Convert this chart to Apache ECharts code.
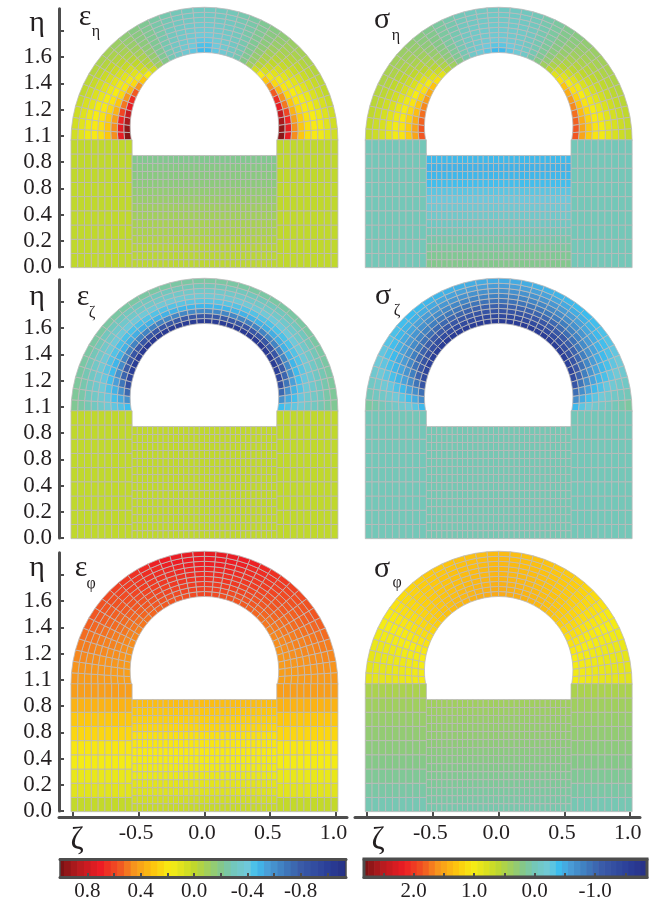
<!DOCTYPE html>
<html><head><meta charset="utf-8">
<style>html,body{margin:0;padding:0;background:#fff}#c{width:655px;height:902px}</style>
<script src="https://cdn.jsdelivr.net/npm/echarts@6/dist/echarts.min.js"></script>
</head><body><div id="c"></div>
<script>
// ---- tick labels (as printed in the figure) ----
const etaTicks=[0,0.2,0.4,0.6,0.8,1.0,1.2,1.4,1.6,1.8];
const etaLabelValues=[0,0.2,0.4,0.6,0.8,1.0,1.2,1.4,1.6];
const etaLabels=['0.0','0.2','0.4','0.8','0.8','1.1','1.2','1.4','1.6'];
const zetaTicks=[-1,-0.5,0,0.5,1];
const zetaLabelValues=[-0.5,0,0.5,1];
const strainBarTicks=[0.8,0.6,0.4,0.2,0,-0.2,-0.4,-0.6,-0.8,-1.0];
const strainBarLabels=[0.8,0.4,0,-0.4,-0.8];
const stressBarTicks=[2.5,2,1.5,1,0.5,0,-0.5,-1,-1.5];
const stressBarLabels=[2,1,0,-1];
const strainBands=[1,.95,.9,.85,.8,.75,.7,.65,.6,.55,.5,.45,.4,.35,.3,.25,.2,.15,.1,.05,0,-.05,-.1,-.15,-.2,-.25,-.3,-.35,-.4,-.45,-.5,-.55,-.6,-.65,-.7,-.75,-.8,-.85,-.9,-.95,-1,-1.05,-1.1,-1.15];
const stressBands=[2.8,2.7,2.6,2.5,2.4,2.3,2.2,2.1,2,1.9,1.8,1.7,1.6,1.5,1.4,1.3,1.2,1.1,1,.9,.8,.7,.6,.5,.4,.3,.2,.1,0,-.1,-.2,-.3,-.4,-.5,-.6,-.7,-.8,-.9,-1,-1.1,-1.2,-1.3,-1.4,-1.5,-1.6,-1.7,-1.8,-1.9];

// ---- field values, arch: one row per ring (inner to outer), 18 sectors from the base up to the crown (symmetric) ----
const epsEtaArch=[
[.97,.95,.9,.82,.72,.66,.55,.45,.3,.18,.05,-.1,-.2,-.28,-.32,-.37,-.42,-.48],
[.72,.72,.68,.6,.5,.45,.34,.24,.15,.07,-.02,-.13,-.22,-.28,-.32,-.36,-.4,-.45],
[.46,.46,.42,.36,.3,.24,.2,.15,.1,.03,-.05,-.14,-.22,-.28,-.32,-.35,-.38,-.42],
[.3,.3,.28,.24,.21,.18,.15,.11,.06,0,-.07,-.15,-.22,-.27,-.31,-.34,-.36,-.39],
[.22,.22,.21,.19,.17,.14,.11,.07,.02,-.03,-.09,-.16,-.22,-.27,-.3,-.33,-.35,-.37],
[.19,.19,.18,.16,.13,.1,.07,.03,-.01,-.06,-.11,-.17,-.22,-.26,-.3,-.32,-.34,-.35],
[.15,.15,.14,.11,.08,.06,.03,0,-.04,-.08,-.13,-.18,-.22,-.26,-.29,-.31,-.32,-.33],
[.1,.1,.09,.07,.04,.02,-.01,-.04,-.07,-.1,-.14,-.18,-.22,-.26,-.28,-.3,-.31,-.32],
[.05,.05,.04,.02,0,-.02,-.04,-.07,-.09,-.12,-.16,-.19,-.22,-.25,-.27,-.29,-.3,-.31]];
const epsEtaLug=[0,0,0,0,0,0,0,0,0];
const epsEtaSlot=[-.01,-.02,-.03,-.05,-.07,-.08,-.1,-.11,-.13,-.15,-.17,-.18,-.19,-.21];

const epsZetaArch=[
[-.47,-.6,-.75,-.88,-.95,-1,-1.02,-1.03,-1.04,-1.04,-1.04,-1.04,-1.04,-1.03,-1.03,-1.03,-1.02,-1.02],
[-.44,-.52,-.6,-.7,-.76,-.8,-.82,-.84,-.84,-.84,-.84,-.84,-.84,-.82,-.82,-.82,-.82,-.82],
[-.42,-.46,-.5,-.55,-.6,-.62,-.64,-.65,-.65,-.65,-.65,-.65,-.65,-.64,-.64,-.64,-.63,-.63],
[-.38,-.41,-.44,-.46,-.48,-.49,-.5,-.5,-.51,-.51,-.51,-.5,-.5,-.5,-.5,-.49,-.49,-.49],
[-.34,-.36,-.39,-.41,-.43,-.44,-.44,-.45,-.45,-.45,-.45,-.44,-.44,-.44,-.44,-.43,-.43,-.43],
[-.31,-.33,-.35,-.37,-.38,-.39,-.39,-.4,-.4,-.4,-.4,-.39,-.39,-.39,-.39,-.38,-.38,-.38],
[-.28,-.3,-.31,-.32,-.33,-.34,-.34,-.34,-.35,-.35,-.34,-.34,-.34,-.34,-.34,-.34,-.34,-.34],
[-.25,-.26,-.27,-.28,-.29,-.29,-.29,-.3,-.3,-.3,-.3,-.3,-.3,-.3,-.3,-.29,-.29,-.29],
[-.22,-.23,-.24,-.25,-.25,-.25,-.25,-.25,-.25,-.25,-.25,-.25,-.25,-.25,-.25,-.25,-.25,-.25]];
const epsZetaLug=[0,0,0,0,0,0,0,0,0];
const epsZetaSlot=[0,0,0,0,0,0,0,0,0,0,0,0,0,0];

const epsPhiArch=[
[.42,.42,.43,.44,.45,.46,.47,.48,.5,.51,.53,.54,.55,.56,.57,.58,.59,.6],
[.42,.43,.44,.45,.46,.47,.48,.5,.51,.53,.54,.56,.57,.58,.59,.6,.61,.61],
[.42,.43,.44,.46,.47,.48,.5,.51,.53,.54,.56,.57,.59,.6,.61,.62,.62,.63],
[.43,.44,.45,.46,.48,.49,.51,.52,.54,.56,.57,.59,.6,.61,.63,.64,.64,.65],
[.43,.44,.45,.47,.48,.5,.52,.53,.55,.57,.59,.6,.62,.63,.64,.65,.66,.66],
[.43,.44,.46,.47,.49,.51,.53,.54,.56,.58,.6,.62,.63,.65,.66,.67,.67,.68],
[.43,.45,.46,.48,.5,.52,.54,.55,.57,.59,.61,.63,.65,.66,.67,.68,.69,.69],
[.43,.45,.47,.49,.51,.53,.55,.56,.58,.6,.62,.64,.66,.67,.69,.7,.7,.71],
[.44,.45,.47,.49,.52,.54,.56,.57,.59,.61,.63,.65,.67,.69,.7,.71,.72,.72]];
const epsPhiLug=[.01,.1,.13,.17,.2,.25,.3,.36,.42];
const epsPhiSlot=[.02,.05,.09,.11,.13,.15,.17,.19,.2,.22,.25,.27,.3,.33];

const sigEtaArch=[
[1.85,1.85,1.8,1.75,1.65,1.55,1.45,1.3,1.1,.85,.6,.4,.2,.05,-.1,-.2,-.3,-.42],
[1.5,1.5,1.45,1.35,1.3,1.2,1.1,1,.85,.7,.5,.3,.15,.02,-.08,-.16,-.24,-.3],
[1.25,1.25,1.2,1.15,1.08,1.02,.95,.85,.72,.58,.43,.27,.13,.02,-.06,-.13,-.18,-.22],
[1.08,1.08,1.05,1,.94,.88,.8,.7,.6,.5,.37,.24,.12,.02,-.05,-.1,-.14,-.17],
[.98,.98,.95,.9,.84,.77,.7,.62,.54,.45,.33,.22,.1,.02,-.05,-.09,-.13,-.15],
[.88,.88,.85,.8,.74,.68,.62,.55,.48,.4,.3,.2,.1,.03,-.04,-.08,-.11,-.12],
[.78,.78,.76,.72,.67,.62,.56,.5,.43,.36,.27,.19,.1,.03,-.03,-.06,-.09,-.1],
[.7,.7,.68,.65,.6,.56,.5,.45,.39,.33,.25,.18,.1,.04,-.01,-.05,-.07,-.08],
[.64,.64,.62,.58,.54,.5,.46,.41,.36,.3,.23,.17,.1,.05,0,-.03,-.05,-.06]];
const sigEtaLug=[0,0,0,0,0,0,0,0,0];
const sigEtaSlot=[.18,.15,.1,.05,0,-.06,-.12,-.18,-.25,-.3,-.38,-.43,-.46,-.42];

const sigZetaArch=[
[-.42,-.7,-.95,-1.2,-1.38,-1.48,-1.52,-1.55,-1.57,-1.58,-1.6,-1.6,-1.6,-1.6,-1.6,-1.6,-1.6,-1.6],
[-.3,-.5,-.7,-.9,-1.05,-1.15,-1.22,-1.27,-1.3,-1.33,-1.35,-1.37,-1.38,-1.38,-1.4,-1.4,-1.4,-1.4],
[-.22,-.38,-.55,-.7,-.82,-.92,-1,-1.05,-1.08,-1.12,-1.14,-1.16,-1.18,-1.2,-1.2,-1.22,-1.22,-1.22],
[-.15,-.3,-.42,-.55,-.65,-.75,-.82,-.87,-.92,-.95,-.98,-1,-1.02,-1.03,-1.05,-1.05,-1.06,-1.06],
[-.1,-.22,-.34,-.45,-.53,-.6,-.67,-.72,-.77,-.8,-.83,-.85,-.87,-.88,-.9,-.9,-.92,-.92],
[-.05,-.16,-.27,-.36,-.44,-.5,-.55,-.6,-.64,-.67,-.7,-.72,-.74,-.76,-.77,-.78,-.79,-.8],
[0,-.1,-.2,-.29,-.36,-.41,-.46,-.5,-.53,-.56,-.59,-.61,-.63,-.65,-.66,-.67,-.68,-.69],
[.05,-.05,-.14,-.22,-.29,-.34,-.38,-.42,-.45,-.47,-.49,-.51,-.53,-.55,-.56,-.57,-.58,-.59],
[.1,0,-.08,-.16,-.22,-.28,-.32,-.35,-.38,-.4,-.41,-.43,-.45,-.46,-.48,-.49,-.5,-.5]];
const sigZetaLug=[0,0,0,0,0,0,0,0,0];
const sigZetaSlot=[.02,.02,.02,.02,.02,.02,.02,.02,.02,.02,.02,.02,.02,.02];

const sigPhiArch=[
[.98,.98,1,1.02,1.05,1.09,1.13,1.18,1.23,1.28,1.32,1.35,1.38,1.4,1.42,1.44,1.45,1.47],
[.96,.97,.98,1,1.04,1.08,1.12,1.17,1.22,1.26,1.3,1.33,1.36,1.38,1.4,1.42,1.43,1.45],
[.94,.95,.97,.99,1.02,1.06,1.11,1.16,1.21,1.25,1.29,1.32,1.34,1.37,1.38,1.4,1.41,1.43],
[.92,.93,.95,.98,1.01,1.05,1.1,1.14,1.19,1.24,1.28,1.31,1.33,1.35,1.37,1.38,1.39,1.41],
[.9,.92,.94,.96,1,1.04,1.08,1.13,1.18,1.23,1.27,1.3,1.32,1.34,1.36,1.37,1.38,1.4],
[.89,.9,.92,.95,.99,1.03,1.07,1.12,1.17,1.22,1.26,1.29,1.31,1.33,1.35,1.36,1.37,1.39],
[.88,.89,.91,.94,.98,1.02,1.06,1.11,1.16,1.21,1.25,1.28,1.3,1.32,1.34,1.35,1.36,1.38],
[.87,.88,.9,.93,.97,1.01,1.05,1.1,1.15,1.2,1.24,1.27,1.29,1.31,1.33,1.34,1.35,1.37],
[.86,.87,.89,.92,.96,1,1.04,1.09,1.14,1.19,1.23,1.26,1.28,1.3,1.32,1.33,1.34,1.36]];
const sigPhiLug=[.02,.08,.14,.2,.26,.3,.34,.4,.48];
const sigPhiSlot=[.05,.08,.1,.13,.16,.19,.22,.24,.27,.3,.32,.34,.37,.4];

// ---- colour scale ----
const cmapPos=[0,.06,.142,.212,.259,.33,.385,.431,.4685,.515,.562,.608,.655,.688,.725,.78,.84,.935,1];
const cmapCol=['#7a1214','#b31b1e','#ed1c24','#f15a22','#f7941d','#fdc80e','#f7ec13','#dbe11f','#c0d82c','#a2cf5c','#84c88a','#72c7bd','#6fc9da','#3dbdee','#4a9fd8','#3f7ebf','#3a5ba8','#2b3f98','#262f85'];
const strainRange=[1.005,-1.14];
const stressRange=[2.82,-1.856];
function hex(c){return [1,3,5].map(i=>parseInt(c.substr(i,2),16));}
function colorOf(v,range){
  let f=(range[0]-v)/(range[0]-range[1]);f=Math.max(0,Math.min(1,f));
  let i=0;while(i<cmapPos.length-2&&f>cmapPos[i+1])i++;
  const t=(f-cmapPos[i])/(cmapPos[i+1]-cmapPos[i]),a=hex(cmapCol[i]),b=hex(cmapCol[i+1]);
  return 'rgb('+a.map((x,n)=>Math.round(x+(b[n]-x)*t)).join(',')+')';
}

// ---- mesh geometry in (zeta, eta) units ----
const G={halfW:1.015,slotHalf:.55,base:-.005,lugTop:.97,floor:.85,outerC:.965,outerR:1.015,innerC:1.07,innerR:.565,startAng:-10.2};
const SECT=36,RINGS=9,LUGC=9,LUGR=9,SLOTC=28,SLOTR=14;
function archPt(k,r){
  const deg=Math.PI/180,t=k*180/SECT,tf=Math.min(t,180-t),sgn=t<=90?-1:1;
  const phi=G.startAng+tf*(90-G.startAng)/90;
  const iu=sgn*G.innerR*Math.cos(phi*deg),ie=G.innerC+G.innerR*Math.sin(phi*deg);
  const ou=sgn*G.outerR*Math.cos(tf*deg),oe=G.outerC+G.outerR*Math.sin(tf*deg);
  const s=r/RINGS;
  return [iu+(ou-iu)*s,ie+(oe-ie)*s];
}
function corners(kind,i,j){
  if(kind===0) return [archPt(i,j),archPt(i+1,j),archPt(i+1,j+1),archPt(i,j+1)];
  let x0,x1,y0,y1;
  if(kind===1||kind===2){
    const w=(G.halfW-G.slotHalf)/LUGC,h=(G.lugTop-G.base)/LUGR;
    x0=kind===1?-G.halfW+i*w:G.slotHalf+i*w;x1=x0+w;y0=G.base+j*h;y1=y0+h;
  }else{
    const w=2*G.slotHalf/SLOTC,h=(G.floor-G.base)/SLOTR;
    x0=-G.slotHalf+i*w;x1=x0+w;y0=G.base+j*h;y1=y0+h;
  }
  return [[x0,y0],[x1,y0],[x1,y1],[x0,y1]];
}
function cells(arch,lug,slot){
  const out=[];
  for(let i=0;i<SECT;i++)for(let r=0;r<RINGS;r++)out.push([0,i,r,arch[r][i<SECT/2?i:SECT-1-i]]);
  for(let i=0;i<LUGC;i++)for(let j=0;j<LUGR;j++){out.push([1,i,j,lug[j]]);out.push([2,i,j,lug[j]]);}
  for(let i=0;i<SLOTC;i++)for(let j=0;j<SLOTR;j++)out.push([3,i,j,slot[j]]);
  return out;
}
function meshRender(range){
  return function(p,api){
    const pts=corners(api.value(0),api.value(1),api.value(2)).map(c=>api.coord(c));
    return {type:'polygon',shape:{points:pts},style:{fill:colorOf(api.value(3),range),stroke:'#bcbaba',lineWidth:.8}};
  };
}
function bandRender(range,step){
  return function(p,api){
    const v=api.value(0),a=api.coord([v+step/2,0]),b=api.coord([v-step/2,1]);
    return {type:'rect',shape:{x:Math.min(a[0],b[0]),y:Math.min(a[1],b[1]),width:Math.abs(b[0]-a[0])+.6,height:Math.abs(b[1]-a[1])},style:{fill:colorOf(v,range)}};
  };
}

const AX='#4d4d4d',TXT='#231f20',SERIF='"Liberation Serif",serif';
const panels=[
 {col:0,row:0,arch:epsEtaArch,lug:epsEtaLug,slot:epsEtaSlot,range:strainRange},
 {col:1,row:0,arch:sigEtaArch,lug:sigEtaLug,slot:sigEtaSlot,range:stressRange},
 {col:0,row:1,arch:epsZetaArch,lug:epsZetaLug,slot:epsZetaSlot,range:strainRange},
 {col:1,row:1,arch:sigZetaArch,lug:sigZetaLug,slot:sigZetaSlot,range:stressRange},
 {col:0,row:2,arch:epsPhiArch,lug:epsPhiLug,slot:epsPhiSlot,range:strainRange},
 {col:1,row:2,arch:sigPhiArch,lug:sigPhiLug,slot:sigPhiSlot,range:stressRange}];
const rowTop=[8.7,279.7,552.7],gridH=258.3,etaMax=1.969;
const colSpec=[{left:59,width:288,min:-1.106,max:1.084},{left:355,width:285,min:-1.093,max:1.075}];

const grid=[],xAxis=[],yAxis=[],series=[];
panels.forEach((P,n)=>{
  const C=colSpec[P.col];
  grid.push({left:C.left,width:C.width,top:rowTop[P.row],height:gridH});
  const bottom=P.row===2;
  xAxis.push({type:'value',gridIndex:n,min:C.min,max:C.max,show:bottom,offset:bottom?6:0,splitLine:{show:false},
    axisLine:{show:true,onZero:false,lineStyle:{color:AX,width:3}},
    axisTick:{show:true,inside:true,length:5,lineStyle:{color:AX,width:2},customValues:zetaTicks},
    axisLabel:{show:true,customValues:zetaLabelValues,margin:5,padding:[0,5,0,0],fontFamily:SERIF,fontSize:22,color:TXT,formatter:v=>v.toFixed(1)}});
  yAxis.push({type:'value',gridIndex:n,min:0,max:etaMax,show:P.col===0,splitLine:{show:false},
    axisLine:{show:true,onZero:false,lineStyle:{color:AX,width:3}},
    axisTick:{show:true,inside:true,length:5,lineStyle:{color:AX,width:2},customValues:etaTicks},
    axisLabel:{show:true,customValues:etaLabelValues,margin:7,fontFamily:SERIF,fontSize:23,color:TXT,
      formatter:v=>etaLabels[etaLabelValues.findIndex(e=>Math.abs(e-v)<1e-6)]}});
  series.push({type:'custom',xAxisIndex:n,yAxisIndex:n,coordinateSystem:'cartesian2d',silent:true,clip:false,
    renderItem:meshRender(P.range),data:cells(P.arch,P.lug,P.slot),animation:false,
    encode:{x:1,y:2}});
});
// colour bars
function addBar(left,width,range,ticks,labels,bands,step,thickEnds){
  const n=grid.length;
  grid.push({left,width,top:859,height:19,show:true,z:5,backgroundColor:'transparent',borderColor:AX,borderWidth:thickEnds?3:1.5});
  xAxis.push({type:'value',gridIndex:n,inverse:true,min:range[1],max:range[0],position:'bottom',z:6,splitLine:{show:false},
    axisLine:{show:true,onZero:false,lineStyle:{color:AX,width:3}},
    axisTick:{show:true,inside:true,length:4,lineStyle:{color:AX,width:2},customValues:ticks},
    axisLabel:{show:true,customValues:labels,margin:4,fontFamily:SERIF,fontSize:21,color:TXT,formatter:v=>v.toFixed(1)}});
  xAxis.push({type:'value',gridIndex:n,inverse:true,min:range[1],max:range[0],position:'top',z:6,splitLine:{show:false},
    axisLine:{show:true,onZero:false,lineStyle:{color:AX,width:3}},axisTick:{show:false},axisLabel:{show:false}});
  yAxis.push({type:'value',gridIndex:n,min:0,max:1,show:false});
  series.push({type:'custom',xAxisIndex:xAxis.length-2,yAxisIndex:yAxis.length-1,coordinateSystem:'cartesian2d',silent:true,clip:true,
    renderItem:bandRender(range,step),data:bands.map(v=>[v]),animation:false,encode:{x:0}});
}
addBar(60,286,strainRange,strainBarTicks,strainBarLabels,strainBands,.05,false);
addBar(364,283,stressRange,stressBarTicks,stressBarLabels,stressBands,.1,true);

function tx(text,x,y,size,ff){return {type:'text',silent:true,z:20,style:{text,x,y,fill:TXT,font:size+'px '+(ff||SERIF),textAlign:'center',textVerticalAlign:'middle'}};}
const graphic=[
 tx('η',37,23,30),tx('η',37,297,30),tx('η',37,568,30),
 tx('ε',85,17,30),tx('η',96,32,16),
 tx('ε',83,297,30),tx('ζ',92,313,16),
 tx('ε',81,568,30),tx('φ',91,584,16),
 tx('σ',382,20,30),tx('η',396,36,16),
 tx('σ',383,296,30),tx('ζ',397,311,16),
 tx('σ',382,569,30),tx('φ',397,583,16),
 tx('ζ',77,841,32),tx('ζ',378,841,32)];

const chart=echarts.init(document.getElementById('c'),null,{renderer:'canvas'});
chart.setOption({animation:false,backgroundColor:'#fff',grid,xAxis,yAxis,series,graphic});
</script></body></html>
